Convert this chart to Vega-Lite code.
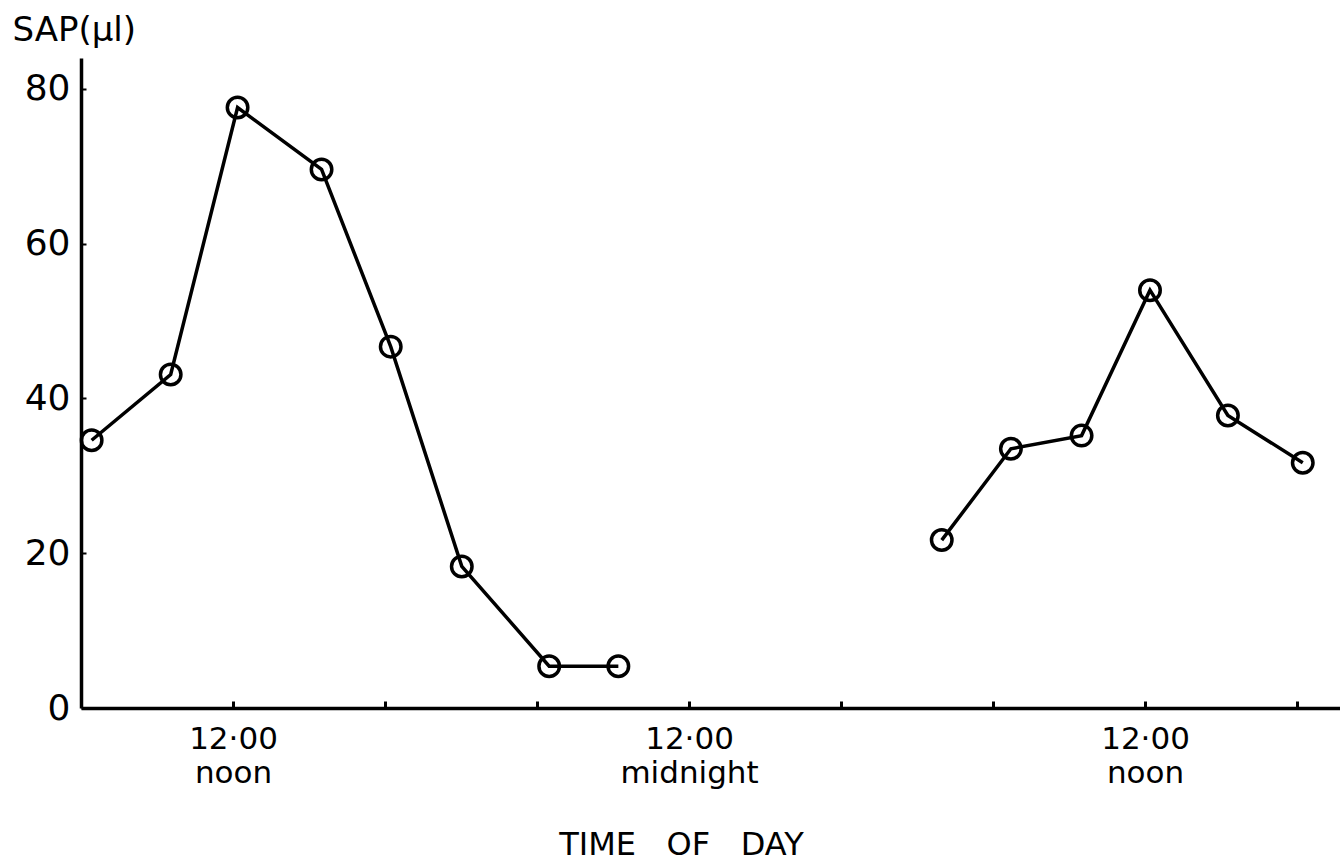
{
  "$schema": "https://vega.github.io/schema/vega-lite/v6.json",
  "width": 1259,
  "height": 650,
  "autosize": {"type": "none"},
  "padding": {"left": 81, "top": 58, "right": 0, "bottom": 154},
  "background": "white",
  "config": {"view": {"stroke": null}},
  "data": {
    "values": [
      {"hour": 8.28, "sap": 34.6, "run": "day1"},
      {"hour": 10.36, "sap": 43.1, "run": "day1"},
      {"hour": 12.12, "sap": 77.6, "run": "day1"},
      {"hour": 14.33, "sap": 69.6, "run": "day1"},
      {"hour": 16.15, "sap": 46.7, "run": "day1"},
      {"hour": 18.02, "sap": 18.3, "run": "day1"},
      {"hour": 20.32, "sap": 5.4, "run": "day1"},
      {"hour": 22.14, "sap": 5.4, "run": "day1"},
      {"hour": 30.65, "sap": 21.7, "run": "day2"},
      {"hour": 32.47, "sap": 33.5, "run": "day2"},
      {"hour": 34.33, "sap": 35.2, "run": "day2"},
      {"hour": 36.13, "sap": 54.0, "run": "day2"},
      {"hour": 38.18, "sap": 37.8, "run": "day2"},
      {"hour": 40.15, "sap": 31.7, "run": "day2"}
    ]
  },
  "encoding": {
    "x": {
      "field": "hour",
      "type": "quantitative",
      "scale": {"domain": [8, 41.13], "nice": false, "zero": false},
      "axis": {
        "values": [12, 16, 20, 24, 28, 32, 36, 40],
        "grid": false,
        "domainColor": "black",
        "domainWidth": 3.5,
        "tickColor": "black",
        "tickWidth": 3,
        "tickSize": -7,
        "labelExpr": "datum.value == 24 ? ['12·00', 'midnight'] : (datum.value == 12 || datum.value == 36) ? ['12·00', 'noon'] : ''",
        "labelFont": "DejaVu Sans",
        "labelFontSize": 31,
        "labelColor": "black",
        "labelLineHeight": 34,
        "labelPadding": 23,
        "labelBaseline": "top",
        "labelFlush": false,
        "labelOverlap": false,
        "title": "TIME\u00a0\u00a0\u00a0OF\u00a0\u00a0\u00a0DAY",
        "titleFont": "DejaVu Sans",
        "titleFontSize": 32,
        "titleFontWeight": "normal",
        "titleColor": "black",
        "titleX": 600,
        "titleY": 146,
        "titleAlign": "center",
        "titleBaseline": "alphabetic"
      }
    },
    "y": {
      "field": "sap",
      "type": "quantitative",
      "scale": {"domain": [0, 84], "nice": false},
      "axis": {
        "values": [0, 20, 40, 60, 80],
        "grid": false,
        "domainColor": "black",
        "domainWidth": 3.5,
        "tickColor": "black",
        "tickWidth": 2,
        "tickSize": -5,
        "labelFont": "DejaVu Sans",
        "labelFontSize": 36,
        "labelColor": "black",
        "labelPadding": 16,
        "labelBaseline": "middle",
        "labelFlush": false,
        "labelOverlap": false,
        "title": "SAP(μl)",
        "titleFont": "DejaVu Sans",
        "titleFontSize": 34,
        "titleFontWeight": "normal",
        "titleColor": "black",
        "titleAngle": 0,
        "titleX": -69,
        "titleY": -28,
        "titleAlign": "left",
        "titleBaseline": "middle"
      }
    },
    "detail": {"field": "run"}
  },
  "layer": [
    {
      "mark": {"type": "line", "color": "black", "strokeWidth": 3.5}
    },
    {
      "mark": {"type": "point", "shape": "circle", "filled": false, "color": "black", "strokeWidth": 3.5, "size": 420, "opacity": 1}
    }
  ]
}
